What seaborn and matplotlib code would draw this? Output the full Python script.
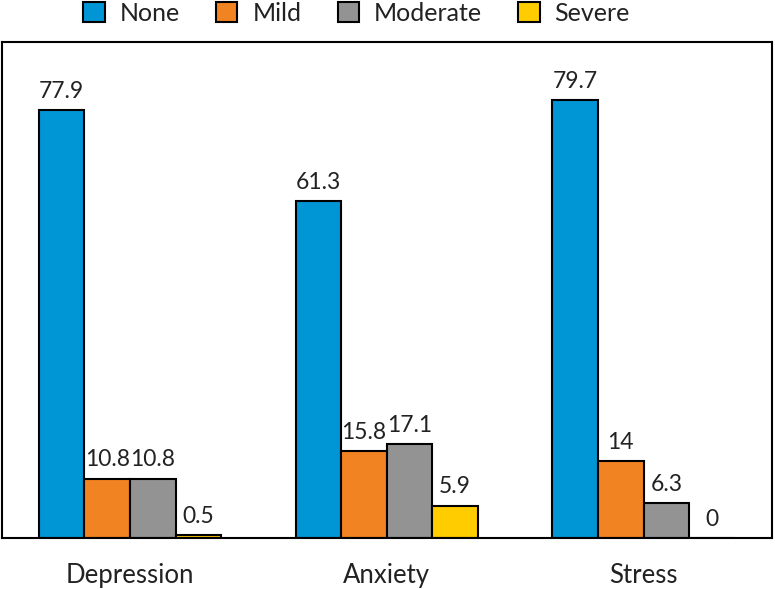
import matplotlib
matplotlib.use("Agg")
import matplotlib.pyplot as plt
import pandas as pd
import seaborn as sns

categories = ["Depression", "Anxiety", "Stress"]
levels = ["None", "Mild", "Moderate", "Severe"]
none_vals = [77.9, 61.3, 79.7]
mild_vals = [10.8, 15.8, 14]
moderate_vals = [10.8, 17.1, 6.3]
severe_vals = [0.5, 5.9, 0]
colors = ["#0096d6", "#f28322", "#939393", "#ffcc00"]

rows = []
for lvl, vals in zip(levels, [none_vals, mild_vals, moderate_vals, severe_vals]):
    for cat, v in zip(categories, vals):
        rows.append({"category": cat, "level": lvl, "value": v})
df = pd.DataFrame(rows)

sns.set_style("white")
plt.rcParams["font.family"] = ["Lato", "DejaVu Sans"]
text_color = "#222222"

fig = plt.figure(figsize=(7.75, 5.89), dpi=100)
ax = fig.add_axes([0.002, 0.0866, 0.994, 0.842])

sns.barplot(data=df, x="category", y="value", hue="level", order=categories,
            hue_order=levels, palette=colors, saturation=1, width=0.71,
            edgecolor="black", linewidth=1.5, errorbar=None, ax=ax)

for cont in ax.containers:
    ax.bar_label(cont, labels=[f"{v:g}" for v in cont.datavalues],
                 padding=6, fontsize=16.5, color=text_color)

ax.set_xlim(-0.5, 2.5)
ax.set_ylim(0, 90.3)
ax.set_yticks([])
ax.set_xlabel("")
ax.set_ylabel("")
ax.tick_params(axis="x", length=0, labelsize=18.5, pad=18, labelcolor=text_color)
for s in ax.spines.values():
    s.set_color("black")
    s.set_linewidth(1.5)

leg = ax.legend(loc="lower center", bbox_to_anchor=(0.461, 1.0), ncol=4,
                frameon=False, fontsize=18, handlelength=0.85, handleheight=0.85,
                columnspacing=1.45, handletextpad=0.6, borderaxespad=0.3)
for t in leg.get_texts():
    t.set_color(text_color)
for h in leg.legend_handles:
    h.set_edgecolor("black")
    h.set_linewidth(1.5)

fig.savefig("out.png", dpi=100)
